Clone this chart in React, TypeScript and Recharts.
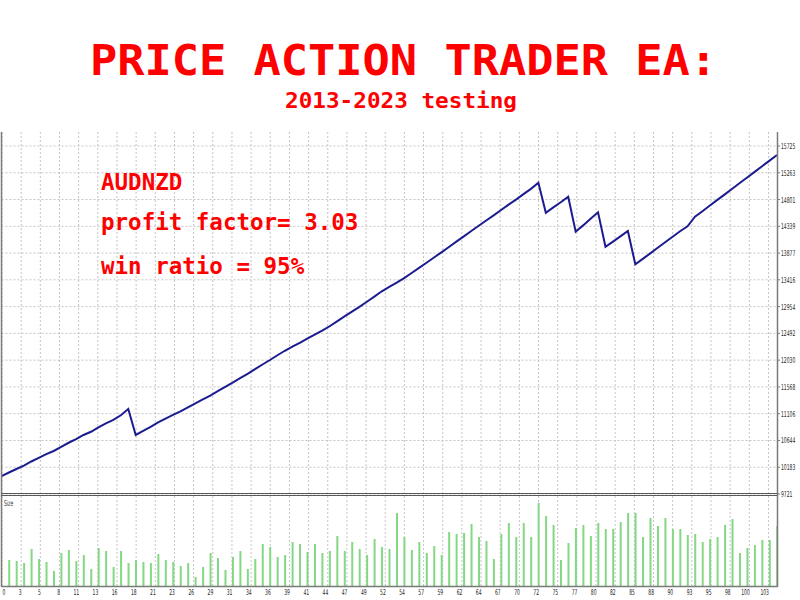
import React from 'react';
import { LineChart, Line, XAxis, YAxis, CartesianGrid, BarChart, Bar } from 'recharts';

const balance = [
  10030, 10092, 10152, 10210, 10282, 10346, 10408, 10463, 10533, 10605,
  10669, 10739, 10795, 10869, 10941, 10999, 11080, 11187, 10739, 10812,
  10880, 10955, 11022, 11085, 11145, 11215, 11283, 11352, 11420, 11494,
  11570, 11643, 11720, 11792, 11875, 11955, 12033, 12115, 12192, 12262,
  12330, 12400, 12472, 12541, 12615, 12700, 12784, 12868, 12950, 13038,
  13125, 13218, 13295, 13366, 13445, 13533, 13622, 13710, 13802, 13890,
  13982, 14075, 14165, 14258, 14348, 14440, 14528, 14621, 14712, 14800,
  14895, 14985, 15091, 14573, 14665, 14755, 14850, 14246, 14355, 14470,
  14580, 13987, 14075, 14165, 14258, 13683, 13778, 13872, 13968, 14063,
  14158, 14254, 14340, 14505, 14600, 14697, 14795, 14890, 14988, 15085,
  15180, 15278, 15375, 15472, 15569,
];

const sizes = [
  0.26, 0.25, 0.23, 0.37, 0.27, 0.24, 0.15, 0.33, 0.36, 0.25,
  0.31, 0.17, 0.38, 0.35, 0.19, 0.35, 0.23, 0.26, 0.24, 0.23,
  0.32, 0.26, 0.24, 0.20, 0.23, 0.09, 0.19, 0.33, 0.28, 0.16,
  0.29, 0.35, 0.17, 0.27, 0.42, 0.39, 0.29, 0.31, 0.44, 0.42,
  0.34, 0.42, 0.33, 0.35, 0.50, 0.35, 0.44, 0.37, 0.31, 0.47,
  0.39, 0.37, 0.73, 0.49, 0.36, 0.44, 0.33, 0.40, 0.31, 0.54,
  0.52, 0.53, 0.62, 0.49, 0.45, 0.27, 0.52, 0.63, 0.49, 0.63,
  0.49, 0.83, 0.70, 0.61, 0.26, 0.43, 0.58, 0.61, 0.50, 0.63,
  0.57, 0.57, 0.64, 0.73, 0.73, 0.49, 0.68, 0.60, 0.68, 0.57,
  0.57, 0.51, 0.52, 0.44, 0.47, 0.49, 0.61, 0.67, 0.33, 0.38,
  0.41, 0.46, 0.46, 0.60,
];

const yTickLabels = [9721, 10183, 10644, 11106, 11568, 12030, 12492, 12954, 13416, 13877, 14339, 14801, 15263, 15725];

const xTickLabels = [
  '0', '3', '5', '8', '11', '13', '16', '18', '21', '23', '26', '29', '31', '34', '36', '39', '41', '44', '47', '49',
  '52', '54', '57', '59', '62', '64', '67', '70', '72', '75', '77', '80', '82', '85', '88', '90', '93', '95', '98', '100', '103',
];

const titleText = 'PRICE ACTION TRADER EA:';
const subtitleText = '2013-2023 testing';
const infoLines = ['AUDNZD', 'profit factor= 3.03', 'win ratio = 95%'];

const balanceData = balance.map((b, i) => ({ trade: i, balance: b }));
const sizeData = sizes.map((s, i) => ({ trade: i + 1, size: s }));
const xTickPos = xTickLabels.map((_, k) => 0.067 + k * 2.5697);

const RED = '#ff0000';
const GRID = '#c4c4c4';
const FRAME = '#7a7a7a';
const MONO = '"DejaVu Sans Mono", monospace';
const SMALL = '"DejaVu Sans", sans-serif';
const SQUEEZE = 0.56;

const YTick = (props: any) => {
  const { x, y, payload } = props;
  const s = String(payload.value);
  return (
    <text transform={`translate(${x},${y + 3}) scale(${SQUEEZE},1)`} fontSize={8} fill="#222" fontFamily={SMALL}>
      {s}
    </text>
  );
};

const XTick = (props: any) => {
  const { x, y, index } = props;
  const s = xTickLabels[index] ?? '';
  const first = index === 0;
  return (
    <text
      transform={`translate(${x + 0.5},${y + 9}) scale(${SQUEEZE},1)`}
      textAnchor={first ? 'start' : 'end'}
      fontSize={8}
      fill="#222"
      fontFamily={SMALL}
    >
      {s}
    </text>
  );
};

export default function App() {
  return (
    <div style={{ position: 'absolute', left: 0, top: 0, width: 800, height: 600, background: '#ffffff', overflow: 'hidden' }}>
      <svg width={800} height={130} style={{ position: 'absolute', left: 0, top: 0 }}>
        <text x={403.5} y={75} textAnchor="middle" fontFamily={MONO} fontWeight="bold" fontSize={42} fill={RED} textLength={627} lengthAdjust="spacingAndGlyphs">
          {titleText}
        </text>
        <text x={401} y={108} textAnchor="middle" fontFamily={MONO} fontWeight="bold" fontSize={20.5} fill={RED} textLength={232} lengthAdjust="spacingAndGlyphs">
          {subtitleText}
        </text>
      </svg>

      <div style={{ position: 'absolute', left: 0, top: 132, width: 800, height: 368 }}>
        <LineChart width={800} height={368} data={balanceData} margin={{ top: 0, right: 0, bottom: 6, left: 1.5 }}>
          <CartesianGrid stroke={GRID} strokeDasharray="2 2" verticalValues={xTickPos} horizontalValues={yTickLabels} />
          <XAxis dataKey="trade" type="number" domain={[0, 104]} ticks={xTickPos} interval={0} hide />
          <YAxis
            orientation="right"
            type="number"
            domain={[9721, 15966]}
            ticks={yTickLabels}
            interval={0}
            width={23}
            axisLine={false}
            tickLine={{ stroke: FRAME }}
            tickSize={3}
            tickMargin={1}
            tick={<YTick />}
            allowDataOverflow
          />
          <Line type="linear" dataKey="balance" stroke="#1c1c90" strokeWidth={2} dot={false} isAnimationActive={false} />
        </LineChart>
      </div>

      <div style={{ position: 'absolute', left: 0, top: 496, width: 800, height: 104 }}>
        <BarChart width={800} height={104} data={sizeData} margin={{ top: 0, right: 23, bottom: 0, left: 1.5 }}>
          <CartesianGrid stroke={GRID} strokeDasharray="2 2" horizontal={false} verticalValues={xTickPos} />
          <XAxis
            dataKey="trade"
            type="number"
            domain={[0, 104]}
            ticks={xTickPos}
            interval={0}
            height={14}
            axisLine={false}
            tickLine={false}
            tickSize={0}
            tickMargin={0}
            tick={<XTick />}
            allowDataOverflow
          />
          <YAxis type="number" domain={[0, 0.9]} hide />
          <Bar dataKey="size" fill="#84d884" barSize={2} isAnimationActive={false} />
        </BarChart>
      </div>

      <svg width={800} height={600} style={{ position: 'absolute', left: 0, top: 0, pointerEvents: 'none' }}>
        <line x1={1.5} y1={132} x2={1.5} y2={587} stroke={FRAME} strokeWidth={1.5} />
        <line x1={777.5} y1={132} x2={777.5} y2={587} stroke={FRAME} strokeWidth={1.5} />
        <line x1={1.5} y1={493.5} x2={777.5} y2={493.5} stroke="#5a5a5a" strokeWidth={1} />
        <line x1={1.5} y1={495.5} x2={777.5} y2={495.5} stroke="#5a5a5a" strokeWidth={1} />
        <line x1={1.5} y1={586.5} x2={777.5} y2={586.5} stroke={FRAME} strokeWidth={1.5} />
        <text transform={`translate(4,505.5) scale(${SQUEEZE},1)`} fontSize={8} fill="#333" fontFamily={SMALL}>
          Size
        </text>
        <text x={101} y={189.5} fontFamily={MONO} fontWeight="bold" fontSize={22.5} fill={RED}>
          {infoLines[0]}
        </text>
        <text x={101} y={229.5} fontFamily={MONO} fontWeight="bold" fontSize={22.5} fill={RED}>
          {infoLines[1]}
        </text>
        <text x={101} y={273.5} fontFamily={MONO} fontWeight="bold" fontSize={22.5} fill={RED}>
          {infoLines[2]}
        </text>
      </svg>
    </div>
  );
}
